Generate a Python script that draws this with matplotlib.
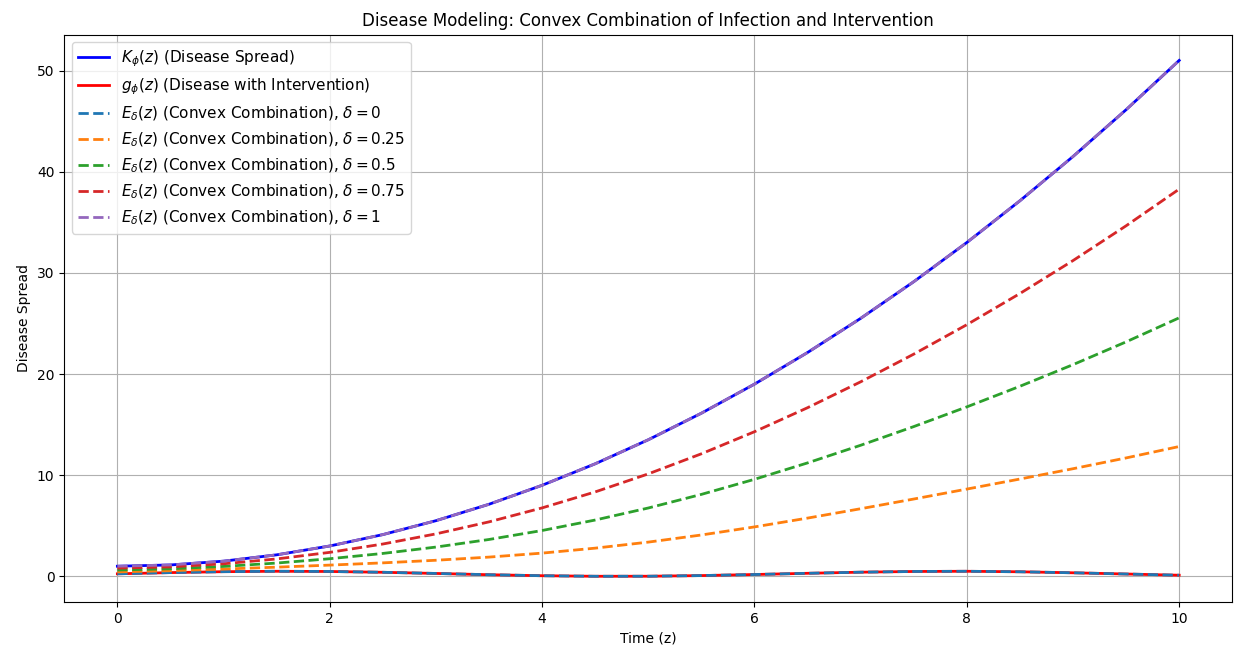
import matplotlib
matplotlib.use("Agg")
import numpy as np
import matplotlib.pyplot as plt

# values at half-step intervals of z
z = [0.0, 0.5, 1.0, 1.5, 2.0, 2.5, 3.0, 3.5, 4.0, 4.5, 5.0,
     5.5, 6.0, 6.5, 7.0, 7.5, 8.0, 8.5, 9.0, 9.5, 10.0]
k_spread = [1.0, 1.125, 1.5, 2.125, 3.0, 4.125, 5.5, 7.125, 9.0, 11.125, 13.5,
            16.125, 19.0, 22.125, 25.5, 29.125, 33.0, 37.125, 41.5, 46.125, 51.0]
g_interv = [0.25, 0.37, 0.46, 0.5, 0.48, 0.4, 0.285, 0.16, 0.06, 0.006, 0.01,
            0.075, 0.18, 0.3, 0.41, 0.48, 0.5, 0.45, 0.35, 0.23, 0.11]
deltas = [0, 0.25, 0.5, 0.75, 1]

z = np.array(z)
K = np.array(k_spread)
g = np.array(g_interv)

fig, ax = plt.subplots(figsize=(12.36, 6.53), dpi=100)
ax.plot(z, K, color="blue", lw=2, label=r"$K_\phi(z)$ (Disease Spread)")
ax.plot(z, g, color="red", lw=2, label=r"$g_\phi(z)$ (Disease with Intervention)")

for i, d in enumerate(deltas):
    E = d * K + (1 - d) * g
    ax.plot(z, E, ls="--", lw=2, color=f"C{i}",
            label=rf"$E_\delta(z)$ (Convex Combination), $\delta = {d}$")

ax.set_title("Disease Modeling: Convex Combination of Infection and Intervention")
ax.set_xlabel("Time (z)")
ax.set_ylabel("Disease Spread")
ax.grid(True)
ax.legend(loc="upper left", fontsize=11)

fig.subplots_adjust(left=0.052, right=0.997, top=0.947, bottom=0.078)
fig.savefig("out.png")
